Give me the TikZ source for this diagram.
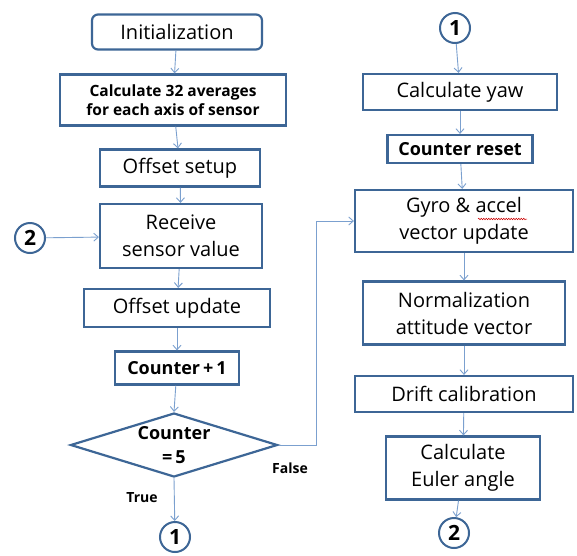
\documentclass[tikz,border=0pt]{standalone}
\usepackage{fontspec}
\setmainfont{Open Sans}
\usetikzlibrary{arrows.meta,shapes.geometric,decorations.pathmorphing}
\definecolor{boxc}{HTML}{3D6696}
\definecolor{arrc}{HTML}{7BA0CF}
\begin{document}
\begin{tikzpicture}[x=1pt,y=-1pt,
 box/.style={draw=boxc,line width=2.2pt,fill=white,inner sep=0pt,align=center,font=\fontsize{20}{27}\selectfont},
 bbox/.style={box,font=\bfseries\fontsize{15.5}{19}\selectfont},
 conn/.style={draw=arrc,line width=0.9pt,-{Straight Barb[length=4.5pt,width=8pt]}},
 circ/.style={circle,draw=boxc,line width=2pt,fill=white,minimum size=30pt,inner sep=0pt,font=\bfseries\fontsize{21}{22}\selectfont},
 lbl/.style={font=\bfseries\fontsize{14}{16}\selectfont}]
\useasboundingbox[fill=white] (0,0) rectangle (577,555);
% left column
\node[box,rounded corners=6pt,minimum width=170pt,minimum height=35pt] (init) at (177,32) {Initialization};
\node[bbox,minimum width=226pt,minimum height=51pt] (avg) at (173,100) {Calculate 32 averages\\for each axis of sensor};
\node[box,minimum width=160pt,minimum height=37pt] (offs) at (180,168) {Offset setup};
\node[box,minimum width=162pt,minimum height=64pt] (recv) at (181,236) {Receive\\sensor value};
\node[box,minimum width=186pt,minimum height=38pt] (offu) at (177,308) {Offset update};
\node[box,font=\bfseries\fontsize{18}{20}\selectfont,minimum width=124pt,minimum height=33pt] (cnt) at (177,368) {Counter\,+\,1};
\node[diamond,draw=boxc,line width=2.2pt,fill=white,inner sep=0pt,aspect=3.23,minimum width=207pt,minimum height=64pt] (dec) at (174,445) {};
\node[align=center,inner sep=0pt,font=\bfseries\fontsize{18}{24}\selectfont] (dect) at (174,445) {Counter\\=\,5};
\node[circ] (c1b) at (175,537) {1};
\node[circ] (c2l) at (30,238) {2};
\node[lbl] (ltrue) at (142,498) {True};
\node[lbl] (lfalse) at (290,468) {False};
% right column
\node[circ] (c1t) at (455,28) {1};
\node[box,minimum width=194pt,minimum height=36pt] (yaw) at (460,92) {Calculate yaw};
\node[box,font=\bfseries\fontsize{18}{20}\selectfont,minimum width=145pt,minimum height=28pt] (rst) at (460,149) {Counter reset};
\node[box,minimum width=218pt,minimum height=62pt] (gyro) at (464,221) {Gyro \& accel\\vector update};
\node[box,minimum width=202pt,minimum height=63pt] (norm) at (464,313) {Normalization\\attitude vector};
\node[box,minimum width=218pt,minimum height=36pt] (drift) at (464,394) {Drift calibration};
\node[box,minimum width=154pt,minimum height=63pt] (euler) at (463,468) {Calculate\\Euler angle};
\node[circ] (c2b) at (454,533) {2};
% spell-check squiggle under "accel"
\draw[red!80!black,line width=0.5pt,decorate,decoration={snake,amplitude=0.8pt,segment length=2.5pt}]
  ([shift={(14,-2)}]gyro.center) -- ([shift={(63,-2)}]gyro.center);
% connectors
\draw[conn] (init) -- (avg);
\draw[conn] (avg) -- (offs);
\draw[conn] (offs) -- (recv);
\draw[conn] (c2l) -- (recv);
\draw[conn] (recv) -- (offu);
\draw[conn] (offu) -- (cnt);
\draw[conn] (cnt) -- (dec.north);
\draw[conn] (dec.south) -- (c1b);
\draw[conn] (dec.east) -- ++(38,0) |- (gyro.west);
\draw[conn] (c1t) -- (yaw);
\draw[conn] (yaw) -- (rst);
\draw[conn] (rst) -- (gyro);
\draw[conn] (gyro) -- (norm);
\draw[conn] (norm) -- (drift);
\draw[conn] (drift) -- (euler);
\draw[conn] (euler) -- (c2b);
\end{tikzpicture}
\end{document}
